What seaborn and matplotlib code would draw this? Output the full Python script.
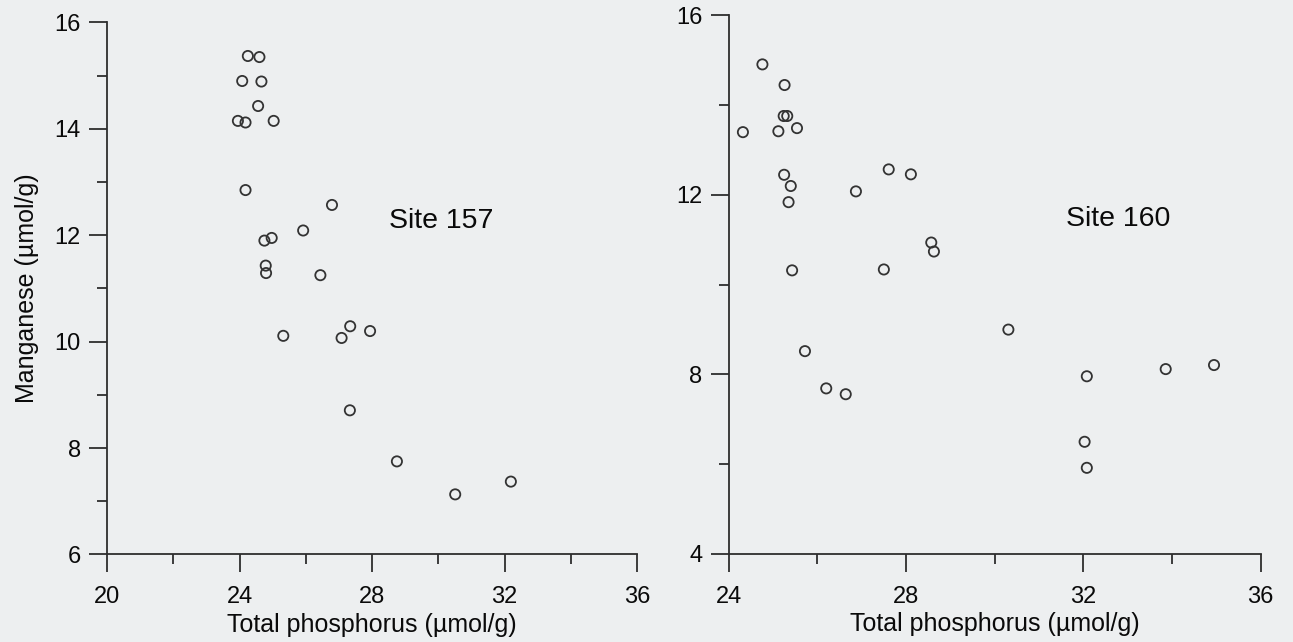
import numpy as np
import pandas as pd
import matplotlib
matplotlib.use("Agg")
import matplotlib.pyplot as plt
from matplotlib.ticker import MultipleLocator
import seaborn as sns

# Site 157: total phosphorus vs manganese (µmol/g)
p157 = [24.25, 24.60, 24.08, 24.66, 24.56, 23.95, 24.18, 25.03, 24.18, 26.79,
        25.92, 24.97, 24.75, 24.79, 24.80, 26.44, 27.34, 27.94, 25.32, 27.08,
        27.33, 28.75, 32.19, 30.51]
mn157 = [15.37, 15.35, 14.90, 14.89, 14.43, 14.15, 14.12, 14.15, 12.85, 12.57,
         12.09, 11.95, 11.90, 11.43, 11.29, 11.25, 10.29, 10.20, 10.11, 10.07,
         8.71, 7.75, 7.37, 7.13]

# Site 160
p160 = [24.76, 25.26, 25.24, 25.32, 24.32, 25.12, 25.54, 27.61, 28.11, 25.25,
        25.40, 26.87, 25.35, 28.57, 28.63, 27.50, 25.43, 30.31, 25.72, 26.20,
        26.64, 32.08, 33.86, 34.95, 32.03, 32.08]
mn160 = [14.91, 14.45, 13.76, 13.76, 13.40, 13.42, 13.49, 12.57, 12.46, 12.45,
         12.20, 12.08, 11.84, 10.94, 10.74, 10.34, 10.32, 9.00, 8.52, 7.69,
         7.56, 7.96, 8.12, 8.21, 6.50, 5.92]

x_label = "Total phosphorus (µmol/g)"
y_label = "Manganese (µmol/g)"

sns.set_theme(style="ticks")
plt.rcParams["font.family"] = ["Liberation Sans", "DejaVu Sans"]

paper = "#edeff0"
ink = "#2e2e2e"
txt = "#0a0a0a"

fig = plt.figure(figsize=(12.93, 6.42), dpi=100, facecolor=paper)
ax1 = fig.add_axes([0.0828, 0.1363, 0.4099, 0.8287])
ax2 = fig.add_axes([0.5636, 0.1371, 0.4113, 0.8388])

panels = [
    (ax1, p157, mn157, "Site 157", (20, 36), (6, 16), 4, 2, 2, 1, (28.5, 12.13)),
    (ax2, p160, mn160, "Site 160", (24, 36), (4, 16), 4, 2, 4, 2, (31.6, 11.31)),
]

for ax, px, my, site, xl, yl, xmaj, xmin, ymaj, ymin, tpos in panels:
    df = pd.DataFrame({"P": px, "Mn": my})
    ax.set_facecolor(paper)
    sns.scatterplot(data=df, x="P", y="Mn", ax=ax, marker="o", s=54,
                    facecolor="none", edgecolor="#333333", linewidth=1.3,
                    clip_on=False)
    ax.set_xlim(*xl)
    ax.set_ylim(*yl)
    ax.xaxis.set_major_locator(MultipleLocator(xmaj))
    ax.xaxis.set_minor_locator(MultipleLocator(xmin))
    ax.yaxis.set_major_locator(MultipleLocator(ymaj))
    ax.yaxis.set_minor_locator(MultipleLocator(ymin))
    for side in ("top", "right"):
        ax.spines[side].set_visible(False)
    for side in ("left", "bottom"):
        ax.spines[side].set_color(ink)
        ax.spines[side].set_linewidth(1.3)
    ax.tick_params(which="major", direction="out", length=13, width=1.3,
                   color=ink, labelsize=17, labelcolor=txt, pad=6)
    ax.tick_params(which="minor", direction="out", length=7.5, width=1.3,
                   color=ink)
    ax.tick_params(axis="x", which="major", pad=10)
    ax.set_xlabel(x_label, fontsize=18, color=txt, labelpad=3)
    ax.set_ylabel("")
    ax.text(tpos[0], tpos[1], site, fontsize=20.5, color=txt,
            ha="left", va="baseline")

ax1.set_ylabel(y_label, fontsize=18, color=txt)
ax1.yaxis.set_label_coords(-0.128, 0.5)

fig.savefig("out.png", dpi=100, facecolor=paper)
